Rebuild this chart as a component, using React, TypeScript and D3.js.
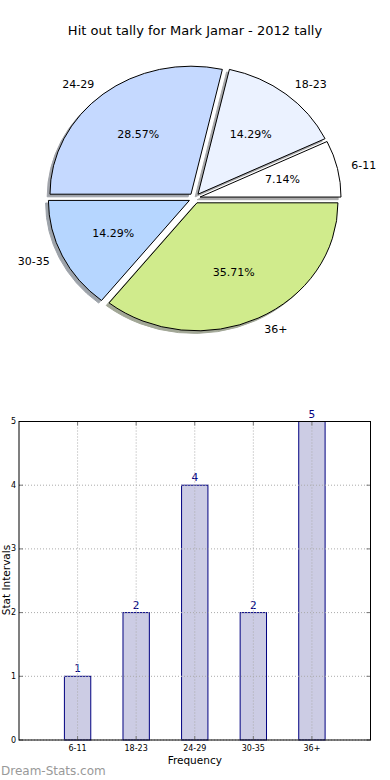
import * as d3 from "d3";
import React from "react";

// pie data (slices go counter-clockwise from 3 o'clock, like matplotlib)
const pieLabels = ["6-11", "18-23", "24-29", "30-35", "36+"];
const pieValues = [1, 2, 4, 2, 5];
const pieColors = ["#ffffff", "#ebf2ff", "#c5d9ff", "#b6d6ff", "#d0eb8c"];

// bar data
const barCategories = ["6-11", "18-23", "24-29", "30-35", "36+"];
const barValues = [1, 2, 4, 2, 5];
const yTicks = [0, 1, 2, 3, 4, 5];

const title = "Hit out tally for Mark Jamar - 2012 tally";
const font = "DejaVu Sans, sans-serif";

function Pie() {
  const cx = 194.5;
  const cy = 198.2;
  const rx = 141;
  const ry = 128;
  const explode = 0.04;

  const arcs = d3
    .pie<number>()
    .sort(null)
    .startAngle(Math.PI / 2)
    .endAngle(Math.PI / 2 - 2 * Math.PI)(pieValues);
  const arc = d3.arc<d3.PieArcDatum<number>>().innerRadius(0).outerRadius(rx);
  const total = d3.sum(pieValues);

  return (
    <g>
      {arcs.map((a, i) => {
        const m = (a.startAngle + a.endAngle) / 2;
        const ox = cx + explode * rx * Math.sin(m);
        const oy = cy - explode * ry * Math.cos(m);
        const d = arc(a) || "";
        const lx = ox + 1.1 * rx * Math.sin(m);
        const ly = oy - 1.1 * ry * Math.cos(m);
        const px = ox + 0.6 * rx * Math.sin(m);
        const py = oy - 0.6 * ry * Math.cos(m);
        const shade = d3.color(pieColors[i])!.darker(3).formatHex();
        return (
          <g key={i}>
            <path
              d={d}
              transform={`translate(${ox - 2.8},${oy + 2.6}) scale(1,${ry / rx})`}
              fill={shade}
              stroke={shade}
              vectorEffect="non-scaling-stroke"
              opacity={0.5}
            />
            <path
              d={d}
              transform={`translate(${ox},${oy}) scale(1,${ry / rx})`}
              fill={pieColors[i]}
              stroke="#000"
              strokeWidth={1}
              vectorEffect="non-scaling-stroke"
            />
            <text
              x={px}
              y={py}
              textAnchor="middle"
              dominantBaseline="central"
              fontSize={11}
              fontFamily={font}
            >
              {((pieValues[i] / total) * 100).toFixed(2)}%
            </text>
            <text
              x={lx}
              y={ly}
              textAnchor={Math.sin(m) > 0 ? "start" : "end"}
              dominantBaseline="central"
              fontSize={11}
              fontFamily={font}
            >
              {pieLabels[i]}
            </text>
          </g>
        );
      })}
    </g>
  );
}

function Bars() {
  const left = 19;
  const right = 370.5;
  const top = 421.5;
  const bottom = 740;
  const x = d3.scaleLinear().domain([-1, 5]).range([left, right]);
  const y = d3.scaleLinear().domain([0, 5]).range([bottom, top]);
  const bw = x(0.45) - x(0);

  return (
    <g>
      <rect x={left} y={top} width={right - left} height={bottom - top} fill="#fff" />
      {barValues.map((v, i) => (
        <g key={i}>
          <rect
            x={x(i) - bw / 2}
            y={y(v)}
            width={bw}
            height={y(0) - y(v)}
            fill="#ccccE4"
            stroke="#000080"
            strokeWidth={1}
          />
          <text
            x={x(i)}
            y={y(v) - 4}
            textAnchor="middle"
            fontSize={10.5}
            fontFamily={font}
            fill="#000080"
          >
            {v}
          </text>
        </g>
      ))}
      {/* grid */}
      {barCategories.map((c, i) => (
        <line
          key={c}
          x1={x(i)}
          x2={x(i)}
          y1={top}
          y2={bottom}
          stroke="#aaa"
          strokeDasharray="1,2"
        />
      ))}
      {yTicks.map((t) => (
        <line
          key={t}
          x1={left}
          x2={right}
          y1={y(t)}
          y2={y(t)}
          stroke="#aaa"
          strokeDasharray="1,2"
        />
      ))}
      {/* ticks inward on all sides */}
      {barCategories.map((c, i) => (
        <g key={c} stroke="#777">
          <line x1={x(i)} x2={x(i)} y1={bottom} y2={bottom - 4} />
          <line x1={x(i)} x2={x(i)} y1={top} y2={top + 4} />
        </g>
      ))}
      {yTicks.map((t) => (
        <g key={t} stroke="#777">
          <line x1={left} x2={left + 4} y1={y(t)} y2={y(t)} />
          <line x1={right} x2={right - 4} y1={y(t)} y2={y(t)} />
        </g>
      ))}
      <rect
        x={left}
        y={top}
        width={right - left}
        height={bottom - top}
        fill="none"
        stroke="#000"
        strokeWidth={1}
      />
      {barCategories.map((c, i) => (
        <text key={c} x={x(i)} y={bottom + 11} textAnchor="middle" fontSize={8} fontFamily={font}>
          {c}
        </text>
      ))}
      {yTicks.map((t) => (
        <text
          key={t}
          x={left - 3}
          y={y(t)}
          textAnchor="end"
          dominantBaseline="central"
          fontSize={8}
          fontFamily={font}
        >
          {t}
        </text>
      ))}
      <text x={(left + right) / 2} y={764} textAnchor="middle" fontSize={10.5} fontFamily={font}>
        Frequency
      </text>
      <text
        transform="translate(9.5,580) rotate(-90)"
        textAnchor="middle"
        fontSize={10.5}
        fontFamily={font}
      >
        Stat Intervals
      </text>
    </g>
  );
}

export default function App() {
  return (
    <svg
      width={390}
      height={780}
      style={{ position: "absolute", left: 0, top: 0, background: "#fff" }}
    >
      <rect width={390} height={780} fill="#fff" />
      <text x={195} y={35} textAnchor="middle" fontSize={13} fontFamily={font}>
        {title}
      </text>
      <Pie />
      <Bars />
      <text x={1} y={775} fontSize={12} fontFamily={font} fill="#999">
        Dream-Stats.com
      </text>
    </svg>
  );
}
